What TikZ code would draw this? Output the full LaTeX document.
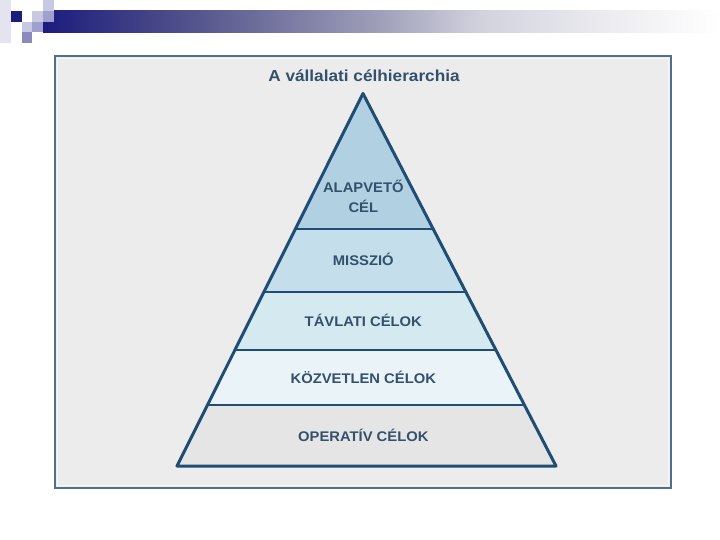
\documentclass[tikz,border=0pt]{standalone}
\usepackage{fontspec}
\setmainfont{Liberation Sans}
\usepackage{graphicx}
\usetikzlibrary{calc}
\definecolor{navyA}{HTML}{1C1C7E}
\definecolor{barB}{HTML}{4E4E8A}
\definecolor{barC}{HTML}{A0A0BA}
\definecolor{barD}{HTML}{D2D2DE}
\definecolor{barE}{HTML}{EEEEF2}
\definecolor{sqPale}{HTML}{E4E4F0}
\definecolor{sqLight}{HTML}{C8C8E2}
\definecolor{sqMed}{HTML}{A0A0CE}
\definecolor{sqDark}{HTML}{8A8ABF}
\definecolor{frameC}{HTML}{50708C}
\definecolor{panel}{HTML}{ECECEC}
\definecolor{pyr}{HTML}{1F4D73}
\definecolor{lblc}{HTML}{33506C}
\definecolor{layA}{HTML}{B1D1E3}
\definecolor{layB}{HTML}{C4DFEB}
\definecolor{layC}{HTML}{D4E9F0}
\definecolor{layD}{HTML}{E9F3F8}
\definecolor{layE}{HTML}{E5E5E5}
\pgfdeclarehorizontalshading{barshade}{100bp}{color(0bp)=(navyA); color(25bp)=(navyA); color(35bp)=(barB); color(50bp)=(barC); color(57.3bp)=(barD); color(67.6bp)=(barE); color(75bp)=(white); color(100bp)=(white)}
\begin{document}
\begin{tikzpicture}[x=1bp,y=-1bp,
  lbl/.style={font=\fontsize{14}{16}\selectfont\bfseries, text=lblc, inner sep=0pt, anchor=base},
  ttl/.style={font=\fontsize{16}{18}\selectfont\bfseries, text=lblc, inner sep=0pt, anchor=base},
  layerline/.style={draw=pyr, line width=1.2bp},
  outline/.style={draw=pyr, line width=3bp, line join=round}]
\useasboundingbox (0,0) rectangle (720,540);
\fill[white] (0,0) rectangle (720,540);
% header decoration
\shade[shading=barshade] (43.2,10.8) rectangle (720,32.4);
\fill[sqPale] (0,0) rectangle (10.8,43.2);
\fill[navyA] (10.8,10.8) rectangle (21.6,21.6);
\fill[sqLight] (32.4,10.8) rectangle (43.2,21.6);
\fill[sqLight] (43.2,0) rectangle (54,10.8);
\fill[sqMed] (43.2,10.8) rectangle (54,21.6);
\fill[sqLight] (21.6,21.6) rectangle (32.4,32.4);
\fill[sqMed] (32.4,21.6) rectangle (43.2,32.4);
\fill[sqDark] (21.6,32.4) rectangle (32.4,43.2);
% panel
\draw[draw=frameC, line width=2bp, fill=panel] (55,56) rectangle (671,488);
\draw[draw=white!60!panel, line width=1bp] (57.5,58.5) rectangle (668.5,485.5);
% pyramid
\coordinate (apex) at (363,93.5);
\coordinate (bl) at (177,466);
\coordinate (br) at (556,466);
\coordinate (l1) at ($(apex)!0.3636!(bl)$);
\coordinate (r1) at ($(apex)!0.3636!(br)$);
\coordinate (l2) at ($(apex)!0.5329!(bl)$);
\coordinate (r2) at ($(apex)!0.5329!(br)$);
\coordinate (l3) at ($(apex)!0.6886!(bl)$);
\coordinate (r3) at ($(apex)!0.6886!(br)$);
\coordinate (l4) at ($(apex)!0.8362!(bl)$);
\coordinate (r4) at ($(apex)!0.8362!(br)$);
\fill[layA] (apex) -- (l1) -- (r1) -- cycle;
\fill[layB] (l1) -- (l2) -- (r2) -- (r1) -- cycle;
\fill[layC] (l2) -- (l3) -- (r3) -- (r2) -- cycle;
\fill[layD] (l3) -- (l4) -- (r4) -- (r3) -- cycle;
\fill[layE] (l4) -- (bl) -- (br) -- (r4) -- cycle;
\draw[layerline] (l1) -- (r1);
\draw[layerline] (l2) -- (r2);
\draw[layerline] (l3) -- (r3);
\draw[layerline] (l4) -- (r4);
\draw[outline] (apex) -- (bl) -- (br) -- cycle;
% texts
\node[ttl] (title) at (364,82) {\scalebox{1.08}[1]{A vállalati célhierarchia}};
\node[lbl] (alap) at (363.3,192.8) {\scalebox{1.06}[1]{ALAPVETŐ}};
\node[lbl] (cel) at (363.3,213) {\scalebox{1.06}[1]{CÉL}};
\node[lbl] (miss) at (363.3,265.3) {\scalebox{1.06}[1]{MISSZIÓ}};
\node[lbl] (tavl) at (363.3,326.7) {\scalebox{1.06}[1]{TÁVLATI CÉLOK}};
\node[lbl] (kozv) at (363.3,383.3) {\scalebox{1.06}[1]{KÖZVETLEN CÉLOK}};
\node[lbl] (oper) at (363.3,441.5) {\scalebox{1.06}[1]{OPERATÍV CÉLOK}};
\end{tikzpicture}
\end{document}
